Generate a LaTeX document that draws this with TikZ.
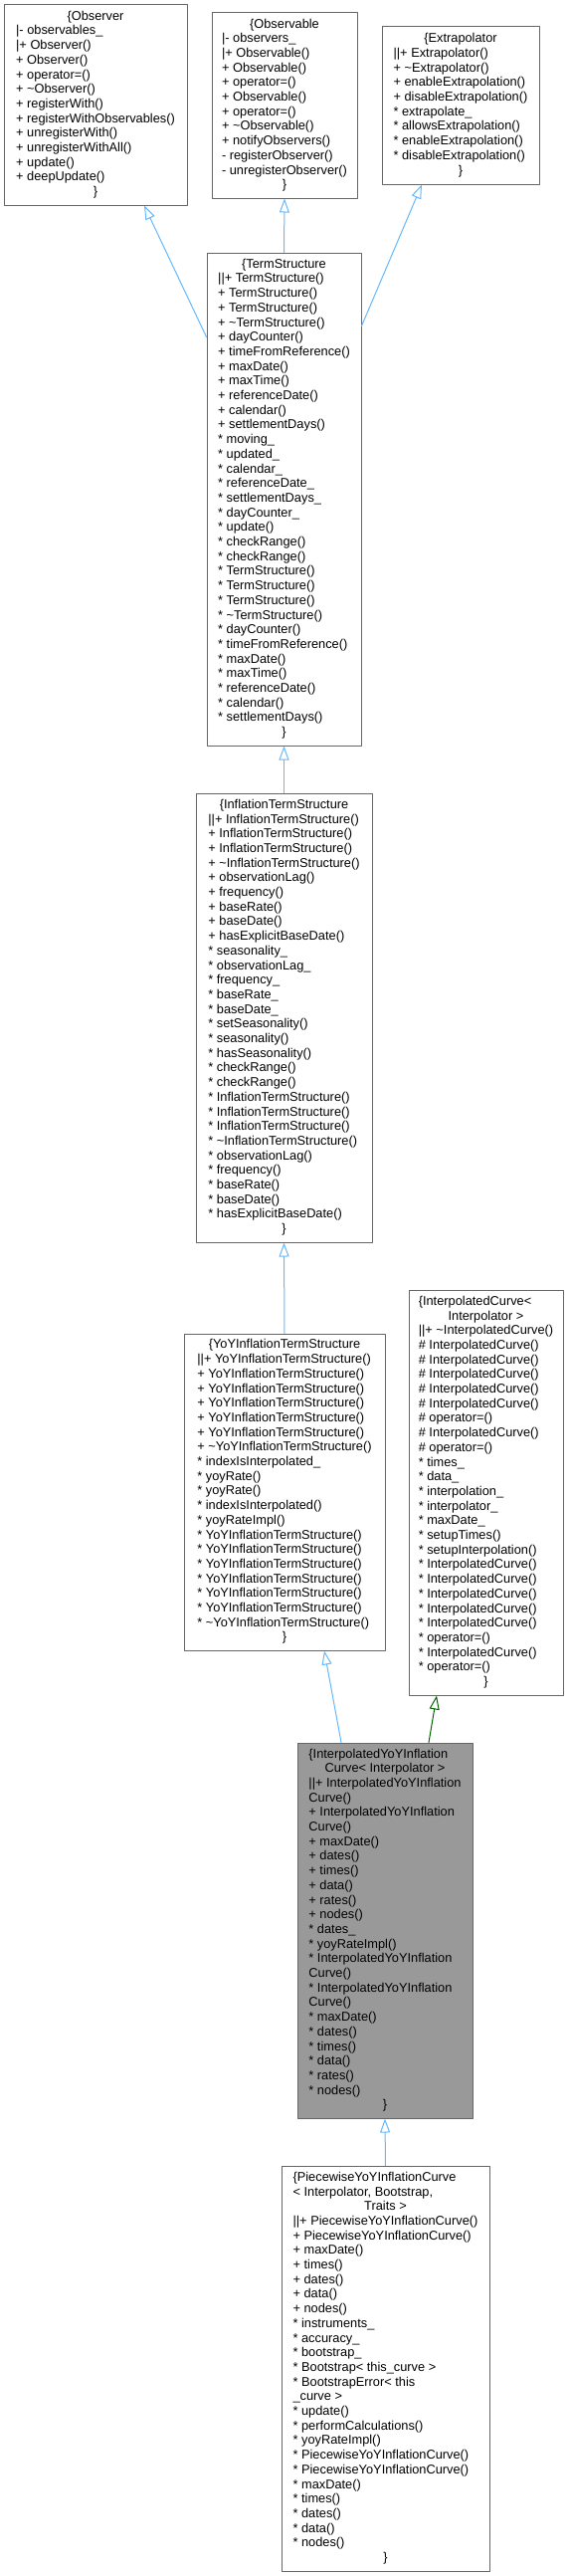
\documentclass[tikz,border=0pt]{standalone}
\usepackage{fontspec}
\setmainfont{Liberation Sans}
\usepackage{tikz}
\usetikzlibrary{arrows.meta}
\definecolor{edgeblue}{HTML}{63B8FF}
\definecolor{edgegreen}{HTML}{006400}
\definecolor{boxgray}{HTML}{666666}
\definecolor{fillgray}{HTML}{999999}
\newcommand{\hd}[1]{\multicolumn{1}{@{}c@{}}{#1}}
\newcommand{\tl}{\textasciitilde}

\begin{document}
\begin{tikzpicture}[line cap=round,line join=round,x=1pt,y=-1pt,
    classbox/.style={draw=boxgray, fill=white, line width=1pt, inner sep=0pt,
      font=\fontsize{12.8}{14.7}\selectfont},
    inherit/.style={draw=edgeblue, line width=1pt, -{Triangle[open, length=14pt, width=10pt]}},
    usedby/.style={draw=edgegreen, line width=1pt, -{Triangle[open, length=14pt, width=10pt]}}]
      \useasboundingbox (0,0) rectangle (571,2588);

      % Observer
      \node[classbox, minimum width=184, minimum height=201] (observer) at (96,105.5) {%
        \begin{tabular}{@{}l@{}}
        \hd{\{Observer}\\
        |- observables\_\\
        |+ Observer()\\
        + Observer()\\
        + operator=()\\
        + \tl Observer()\\
        + registerWith()\\
        + registerWithObservables()\\
        + unregisterWith()\\
        + unregisterWithAll()\\
        + update()\\
        + deepUpdate()\\
        \hd{\}}
        \end{tabular}};

      % Observable
      \node[classbox, minimum width=146, minimum height=186] (observable) at (286,106) {%
        \begin{tabular}{@{}l@{}}
        \hd{\{Observable}\\
        |- observers\_\\
        |+ Observable()\\
        + Observable()\\
        + operator=()\\
        + Observable()\\
        + operator=()\\
        + \tl Observable()\\
        + notifyObservers()\\
        - registerObserver()\\
        - unregisterObserver()\\
        \hd{\}}
        \end{tabular}};

      % Extrapolator
      \node[classbox, minimum width=158, minimum height=158] (extrapolator) at (463,106) {%
        \begin{tabular}{@{}l@{}}
        \hd{\{Extrapolator}\\
        ||+ Extrapolator()\\
        + \tl Extrapolator()\\
        + enableExtrapolation()\\
        + disableExtrapolation()\\
        {*} extrapolate\_\\
        {*} allowsExtrapolation()\\
        {*} enableExtrapolation()\\
        {*} disableExtrapolation()\\
        \hd{\}}
        \end{tabular}};

      % TermStructure
      \node[classbox, minimum width=155, minimum height=495] (termstructure) at (285.5,501.5) {%
        \begin{tabular}{@{}l@{}}
        \hd{\{TermStructure}\\
        ||+ TermStructure()\\
        + TermStructure()\\
        + TermStructure()\\
        + \tl TermStructure()\\
        + dayCounter()\\
        + timeFromReference()\\
        + maxDate()\\
        + maxTime()\\
        + referenceDate()\\
        + calendar()\\
        + settlementDays()\\
        {*} moving\_\\
        {*} updated\_\\
        {*} calendar\_\\
        {*} referenceDate\_\\
        {*} settlementDays\_\\
        {*} dayCounter\_\\
        {*} update()\\
        {*} checkRange()\\
        {*} checkRange()\\
        {*} TermStructure()\\
        {*} TermStructure()\\
        {*} TermStructure()\\
        {*} \tl TermStructure()\\
        {*} dayCounter()\\
        {*} timeFromReference()\\
        {*} maxDate()\\
        {*} maxTime()\\
        {*} referenceDate()\\
        {*} calendar()\\
        {*} settlementDays()\\
        \hd{\}}
        \end{tabular}};

      % InflationTermStructure
      \node[classbox, minimum width=177, minimum height=451] (inflationts) at (285.5,1022.5) {%
        \begin{tabular}{@{}l@{}}
        \hd{\{InflationTermStructure}\\
        ||+ InflationTermStructure()\\
        + InflationTermStructure()\\
        + InflationTermStructure()\\
        + \tl InflationTermStructure()\\
        + observationLag()\\
        + frequency()\\
        + baseRate()\\
        + baseDate()\\
        + hasExplicitBaseDate()\\
        {*} seasonality\_\\
        {*} observationLag\_\\
        {*} frequency\_\\
        {*} baseRate\_\\
        {*} baseDate\_\\
        {*} setSeasonality()\\
        {*} seasonality()\\
        {*} hasSeasonality()\\
        {*} checkRange()\\
        {*} checkRange()\\
        {*} InflationTermStructure()\\
        {*} InflationTermStructure()\\
        {*} InflationTermStructure()\\
        {*} \tl InflationTermStructure()\\
        {*} observationLag()\\
        {*} frequency()\\
        {*} baseRate()\\
        {*} baseDate()\\
        {*} hasExplicitBaseDate()\\
        \hd{\}}
        \end{tabular}};

      % YoYInflationTermStructure
      \node[classbox, minimum width=202, minimum height=318] (yoyts) at (286,1499) {%
        \begin{tabular}{@{}l@{}}
        \hd{\{YoYInflationTermStructure}\\
        ||+ YoYInflationTermStructure()\\
        + YoYInflationTermStructure()\\
        + YoYInflationTermStructure()\\
        + YoYInflationTermStructure()\\
        + YoYInflationTermStructure()\\
        + YoYInflationTermStructure()\\
        + \tl YoYInflationTermStructure()\\
        {*} indexIsInterpolated\_\\
        {*} yoyRate()\\
        {*} yoyRate()\\
        {*} indexIsInterpolated()\\
        {*} yoyRateImpl()\\
        {*} YoYInflationTermStructure()\\
        {*} YoYInflationTermStructure()\\
        {*} YoYInflationTermStructure()\\
        {*} YoYInflationTermStructure()\\
        {*} YoYInflationTermStructure()\\
        {*} YoYInflationTermStructure()\\
        {*} \tl YoYInflationTermStructure()\\
        \hd{\}}
        \end{tabular}};

      % InterpolatedCurve
      \node[classbox, minimum width=155, minimum height=407] (interpcurve) at (488.5,1499.5) {%
        \begin{tabular}{@{}l@{}}
        \{InterpolatedCurve<\\
        \hd{Interpolator >}\\
        ||+ \tl InterpolatedCurve()\\
        \# InterpolatedCurve()\\
        \# InterpolatedCurve()\\
        \# InterpolatedCurve()\\
        \# InterpolatedCurve()\\
        \# InterpolatedCurve()\\
        \# operator=()\\
        \# InterpolatedCurve()\\
        \# operator=()\\
        {*} times\_\\
        {*} data\_\\
        {*} interpolation\_\\
        {*} interpolator\_\\
        {*} maxDate\_\\
        {*} setupTimes()\\
        {*} setupInterpolation()\\
        {*} InterpolatedCurve()\\
        {*} InterpolatedCurve()\\
        {*} InterpolatedCurve()\\
        {*} InterpolatedCurve()\\
        {*} InterpolatedCurve()\\
        {*} operator=()\\
        {*} InterpolatedCurve()\\
        {*} operator=()\\
        \hd{\}}
        \end{tabular}};

      % InterpolatedYoYInflationCurve
      \node[classbox, fill=fillgray, minimum width=176, minimum height=377] (interpyoy) at (387,1939.5) {%
        \begin{tabular}{@{}l@{}}
        \{InterpolatedYoYInflation\\
        \hd{Curve< Interpolator >}\\
        ||+ InterpolatedYoYInflation\\
        Curve()\\
        + InterpolatedYoYInflation\\
        Curve()\\
        + maxDate()\\
        + dates()\\
        + times()\\
        + data()\\
        + rates()\\
        + nodes()\\
        {*} dates\_\\
        {*} yoyRateImpl()\\
        {*} InterpolatedYoYInflation\\
        Curve()\\
        {*} InterpolatedYoYInflation\\
        Curve()\\
        {*} maxDate()\\
        {*} dates()\\
        {*} times()\\
        {*} data()\\
        {*} rates()\\
        {*} nodes()\\
        \hd{\}}
        \end{tabular}};

      % PiecewiseYoYInflationCurve
      \node[classbox, minimum width=209, minimum height=407] (piecewise) at (387.5,2379.5) {%
        \begin{tabular}{@{}l@{}}
        \{PiecewiseYoYInflationCurve\\
        < Interpolator, Bootstrap,\\
        \hd{Traits >}\\
        ||+ PiecewiseYoYInflationCurve()\\
        + PiecewiseYoYInflationCurve()\\
        + maxDate()\\
        + times()\\
        + dates()\\
        + data()\\
        + nodes()\\
        {*} instruments\_\\
        {*} accuracy\_\\
        {*} bootstrap\_\\
        {*} Bootstrap< this\_curve >\\
        {*} BootstrapError< this\\
        \_curve >\\
        {*} update()\\
        {*} performCalculations()\\
        {*} yoyRateImpl()\\
        {*} PiecewiseYoYInflationCurve()\\
        {*} PiecewiseYoYInflationCurve()\\
        {*} maxDate()\\
        {*} times()\\
        {*} dates()\\
        {*} data()\\
        {*} nodes()\\
        \hd{\}}
        \end{tabular}};

      % inheritance edges
      \draw[inherit] ([yshift=-85]termstructure.north west) -- ([xshift=49]observer.south);
      \draw[inherit] (termstructure.north) -- (observable.south);
      \draw[inherit] ([yshift=-74]termstructure.north east) -- ([xshift=-39]extrapolator.south);
      \draw[inherit] (inflationts.north) -- (termstructure.south);
      \draw[inherit] (yoyts.north) -- (inflationts.south);
      \draw[inherit] ([xshift=-44]interpyoy.north) -- ([xshift=40]yoyts.south);
      \draw[usedby] ([xshift=44]interpyoy.north) -- ([xshift=-49.5]interpcurve.south);
      \draw[inherit] (piecewise.north) -- (interpyoy.south);

    \end{tikzpicture}
\end{document}
